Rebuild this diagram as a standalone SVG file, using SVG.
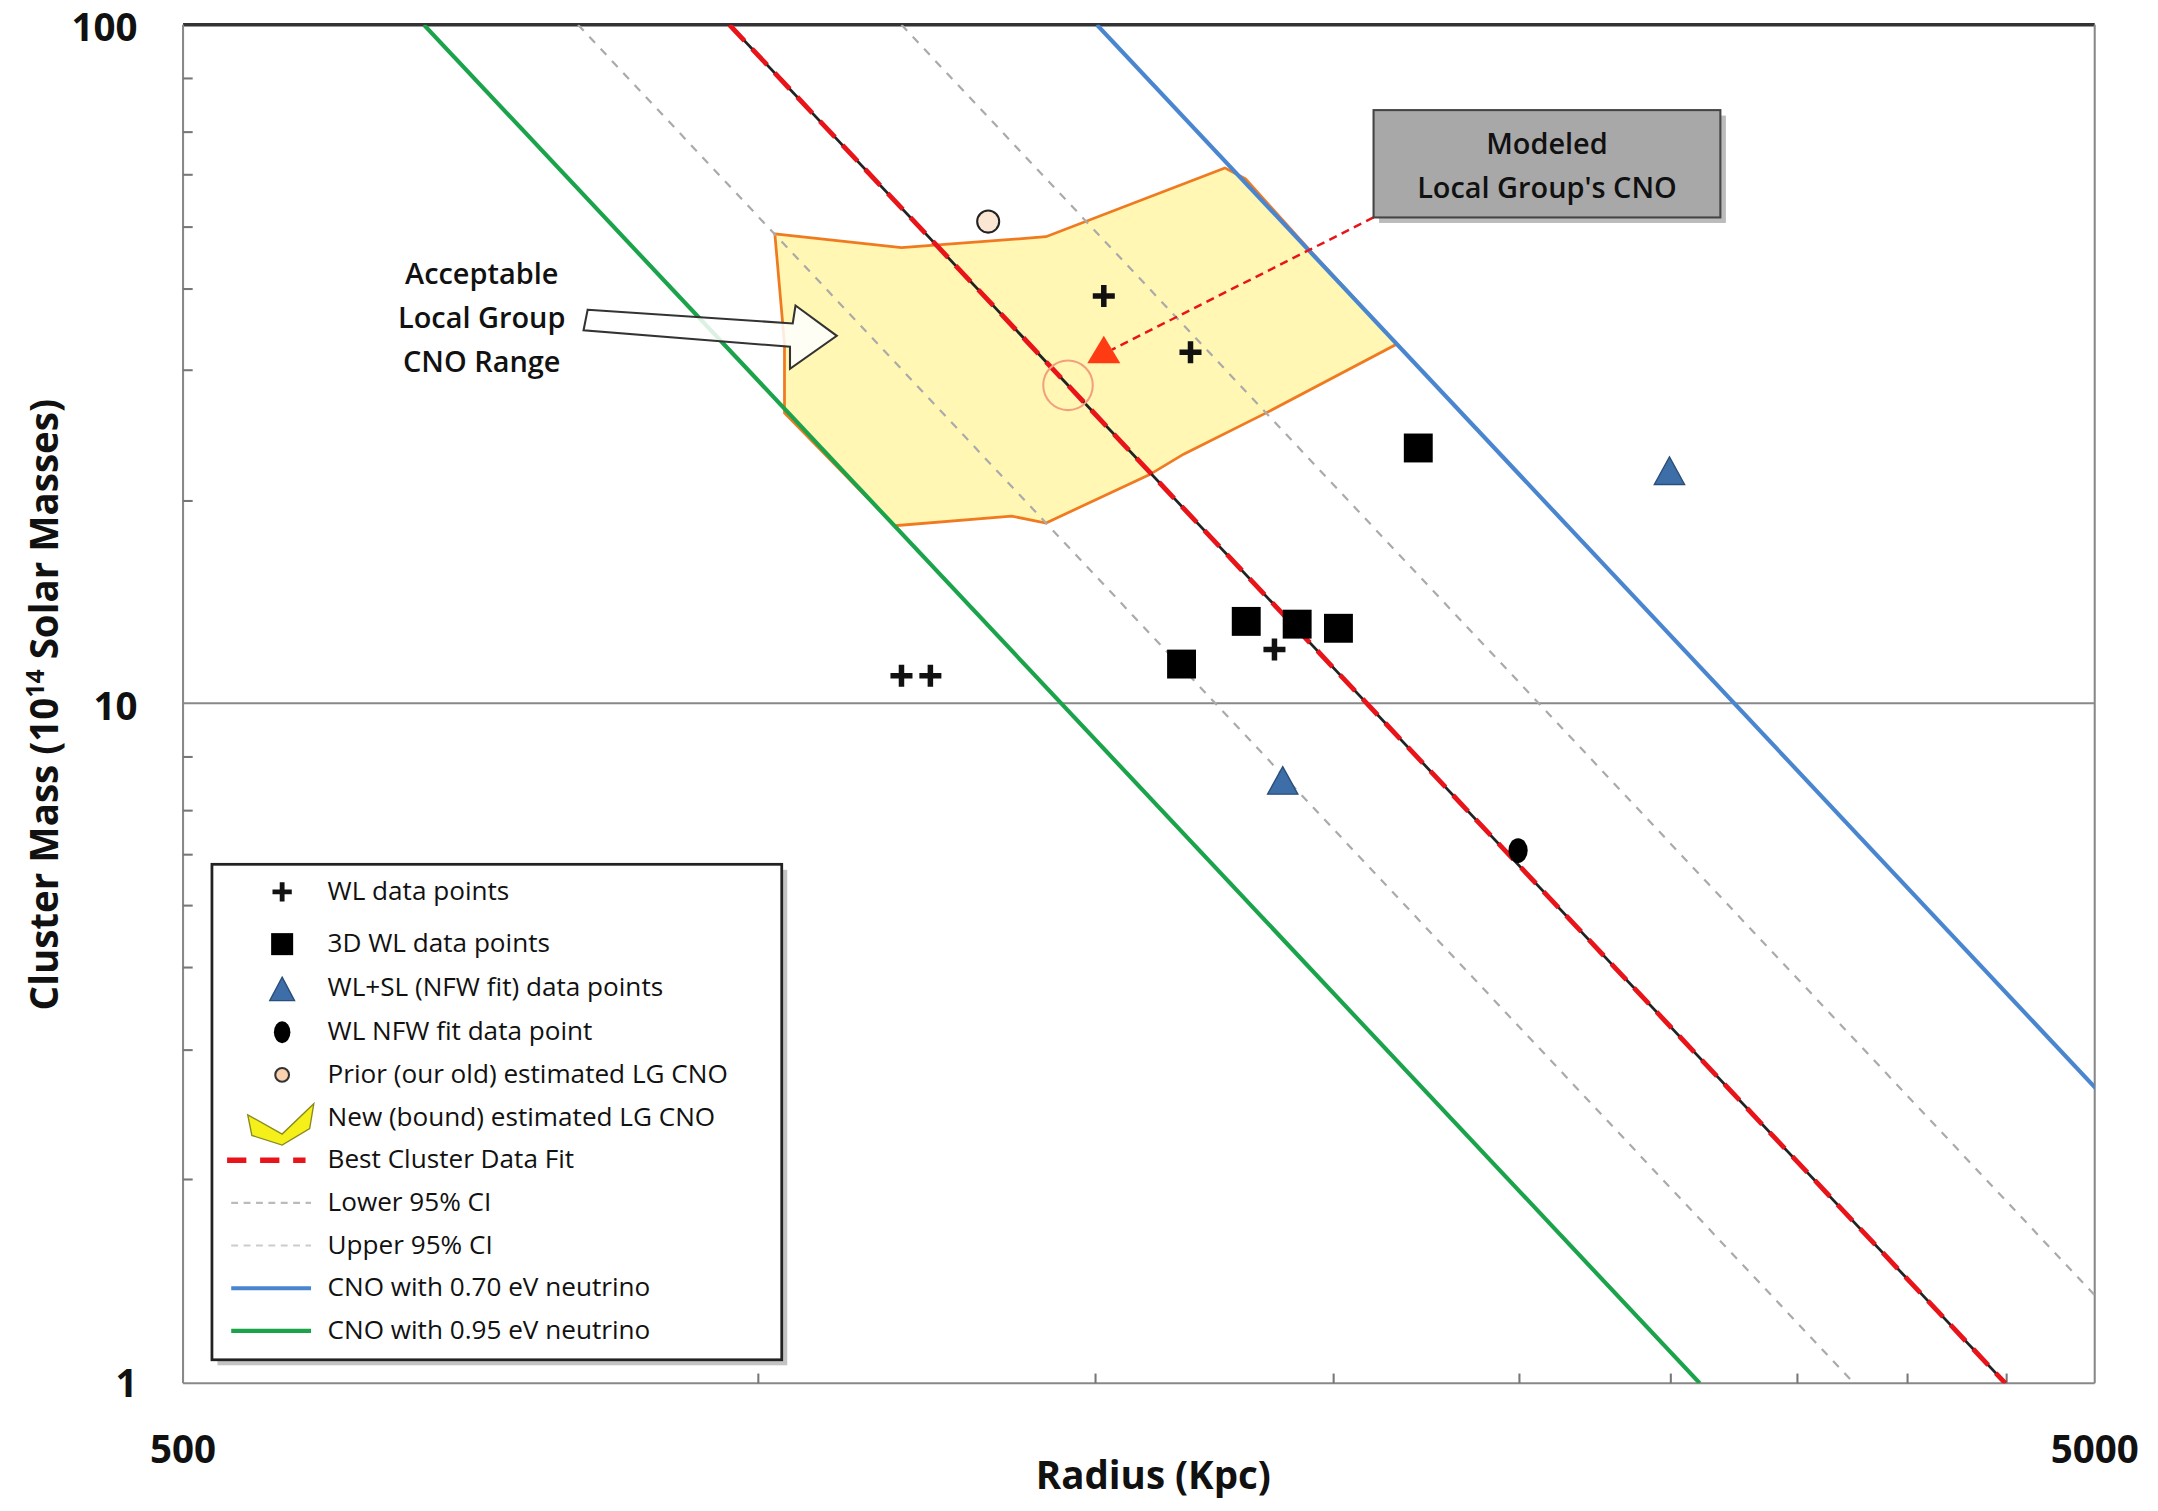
<svg xmlns="http://www.w3.org/2000/svg" width="2158" height="1511" viewBox="0 0 2158 1511">
<style>
text{font-family:"Open Sans","Noto Sans",sans-serif;fill:#111}
.t{font-size:19px}
.ax{font-size:28px;font-weight:bold}
.lab{font-size:21px;font-weight:600}
.tk{stroke:#777;stroke-width:1.5}
.gd{fill:none;stroke:#aaa;stroke-width:1.6;stroke-dasharray:6 6}
.sq{fill:#000}
.tri{fill:#3d6ea8;stroke:#2a4e7a;stroke-width:1}
</style>
<rect width="2158" height="1511" fill="#fff"/>
<g transform="scale(1.3763)">
<defs><clipPath id="pc"><rect x="133" y="18" width="1389" height="987"/></clipPath></defs>
<g id="axes">
<line x1="133" y1="18" x2="1522" y2="18" stroke="#333" stroke-width="2.5"/>
<line x1="1522" y1="18" x2="1522" y2="1005" stroke="#888" stroke-width="1.5"/>
<line x1="133" y1="18" x2="133" y2="1005" stroke="#888" stroke-width="1.5"/>
<line x1="133" y1="1005" x2="1522" y2="1005" stroke="#888" stroke-width="1.5"/>
<line x1="133" y1="511" x2="1522" y2="511" stroke="#888" stroke-width="1.5"/>
<g class="tk">
<line x1="133" y1="57" x2="140" y2="57"/><line x1="133" y1="96" x2="140" y2="96"/><line x1="133" y1="127" x2="140" y2="127"/><line x1="133" y1="165" x2="140" y2="165"/><line x1="133" y1="210" x2="140" y2="210"/><line x1="133" y1="269" x2="140" y2="269"/><line x1="133" y1="364" x2="140" y2="364"/>
<line x1="133" y1="550" x2="140" y2="550"/><line x1="133" y1="589" x2="140" y2="589"/><line x1="133" y1="621" x2="140" y2="621"/><line x1="133" y1="658" x2="140" y2="658"/><line x1="133" y1="703" x2="140" y2="703"/><line x1="133" y1="763" x2="140" y2="763"/><line x1="133" y1="857" x2="140" y2="857"/>
<line x1="551" y1="998" x2="551" y2="1005"/><line x1="796" y1="998" x2="796" y2="1005"/><line x1="969" y1="998" x2="969" y2="1005"/><line x1="1104" y1="998" x2="1104" y2="1005"/><line x1="1214" y1="998" x2="1214" y2="1005"/><line x1="1306" y1="998" x2="1306" y2="1005"/><line x1="1386" y1="998" x2="1386" y2="1005"/><line x1="1458" y1="998" x2="1458" y2="1005"/>
</g>
<text class="ax" x="100" y="30" text-anchor="end">100</text>
<text class="ax" x="100" y="523" text-anchor="end">10</text>
<text class="ax" x="100" y="1015" text-anchor="end">1</text>
<text class="ax" x="133" y="1063" text-anchor="middle">500</text>
<text class="ax" x="1522" y="1063" text-anchor="middle">5000</text>
<text class="ax" x="838" y="1082" text-anchor="middle">Radius (Kpc)</text>
<text class="ax" transform="translate(42,512) rotate(-90)" text-anchor="middle">Cluster Mass (10<tspan font-size="18" dy="-10">14</tspan><tspan dy="10"> Solar Masses)</tspan></text>
</g>
<g id="region">
<path d="M563,170 L655,180 L760,172 L890,122 L905,130 L950,180 L1015,250 L920,300 L860,330 L835,345 L760,380 L735,375 L650,382 L570,300 L570,250 Z" fill="#fff7b3" stroke="#f07a20" stroke-width="2"/>
</g>
<g id="connectors" clip-path="url(#pc)">
<line x1="420" y1="18" x2="1347" y2="1005" class="gd"/>
<line x1="655" y1="18" x2="1582" y2="1005" class="gd"/>
<line x1="308" y1="18" x2="1235" y2="1005" stroke="#1aa34a" stroke-width="3"/>
<line x1="797" y1="18" x2="1724" y2="1005" stroke="#4a86d0" stroke-width="3"/>
<line x1="530" y1="18" x2="1457" y2="1005" stroke="#222" stroke-width="2"/>
<line x1="530" y1="18" x2="1457" y2="1005" stroke="#e8141a" stroke-width="3.5" stroke-dasharray="16 8"/>
<line x1="998" y1="158" x2="808" y2="254" stroke="#e8141a" stroke-width="1.8" stroke-dasharray="6 4"/>
</g>
<g id="points">
<circle cx="776" cy="280" r="18" fill="none" stroke="#f2a080" stroke-width="1.5"/>
<path d="M802,207v16M794,215h16M865,248v16M857,256h16M655,483v16M647,491h16M676,483v16M668,491h16M926,464v16M918,472h16" stroke="#111" stroke-width="4"/>
<rect class="sq" x="1020" y="315" width="21" height="21"/><rect class="sq" x="895" y="441" width="21" height="21"/><rect class="sq" x="932" y="443" width="21" height="21"/><rect class="sq" x="962" y="446" width="21" height="21"/><rect class="sq" x="848" y="472" width="21" height="21"/>
<polygon class="tri" points="1213,332 1224,352 1202,352"/><polygon class="tri" points="932,557 943,577 921,577"/>
<ellipse cx="1103" cy="618" rx="7" ry="9" fill="#000"/>
<circle cx="718" cy="161" r="8" fill="#fbe6d4" stroke="#222" stroke-width="1.5"/>
<polygon points="802,244 814,264 790,264" fill="#ff3b14"/>
</g>
<g id="callout">
<rect x="1002" y="84" width="252" height="78" fill="#777" opacity="0.5"/>
<rect x="998" y="80" width="252" height="78" fill="#a8a8a8" stroke="#444" stroke-width="1.5"/>
<text class="lab" x="1124" y="112" text-anchor="middle">Modeled</text>
<text class="lab" x="1124" y="144" text-anchor="middle">Local Group's CNO</text>
</g>
<g id="arrow-label">
<polygon points="427,225 576,235 578,222 608,244 574,268 574,252 424,240" fill="#fff" fill-opacity="0.85" stroke="#333" stroke-width="1.5"/>
<text class="lab" x="350" y="206" text-anchor="middle">Acceptable</text>
<text class="lab" x="350" y="238" text-anchor="middle">Local Group</text>
<text class="lab" x="350" y="270" text-anchor="middle">CNO Range</text>
</g>
<g id="legend">
<rect x="158" y="632" width="414" height="360" fill="#888" opacity="0.5"/>
<rect x="154" y="628" width="414" height="360" fill="#fff" stroke="#222" stroke-width="2"/>
<path d="M205,641v14M198,648h14" stroke="#111" stroke-width="3.5"/>
<rect x="197" y="678" width="16" height="16" fill="#000"/>
<polygon class="tri" points="205,710 214,727 196,727"/>
<ellipse cx="205" cy="750" rx="6" ry="8" fill="#000"/>
<circle cx="205" cy="781" r="5" fill="#fbd2b0" stroke="#333" stroke-width="1.5"/>
<polygon points="180,810 205,824 228,802 225,820 205,832 183,825" fill="#f6f01a" stroke="#8a8a20" stroke-width="1"/>
<line x1="165" y1="843" x2="222" y2="843" stroke="#e8141a" stroke-width="4" stroke-dasharray="14 10"/>
<line x1="168" y1="874" x2="226" y2="874" stroke="#bbb" stroke-width="1.5" stroke-dasharray="5 4"/>
<line x1="168" y1="905" x2="226" y2="905" stroke="#ccc" stroke-width="1.5" stroke-dasharray="5 4"/>
<line x1="168" y1="936" x2="226" y2="936" stroke="#4a86d0" stroke-width="3"/>
<line x1="168" y1="967" x2="226" y2="967" stroke="#1aa34a" stroke-width="3"/>
<text class="t" x="238" y="654">WL data points</text>
<text class="t" x="238" y="692">3D WL data points</text>
<text class="t" x="238" y="724">WL+SL (NFW fit) data points</text>
<text class="t" x="238" y="756">WL NFW fit data point</text>
<text class="t" x="238" y="787">Prior (our old) estimated LG CNO</text>
<text class="t" x="238" y="818">New (bound) estimated LG CNO</text>
<text class="t" x="238" y="849">Best Cluster Data Fit</text>
<text class="t" x="238" y="880">Lower 95% CI</text>
<text class="t" x="238" y="911">Upper 95% CI</text>
<text class="t" x="238" y="942">CNO with 0.70 eV neutrino</text>
<text class="t" x="238" y="973">CNO with 0.95 eV neutrino</text>
</g>
</g>
</svg>
